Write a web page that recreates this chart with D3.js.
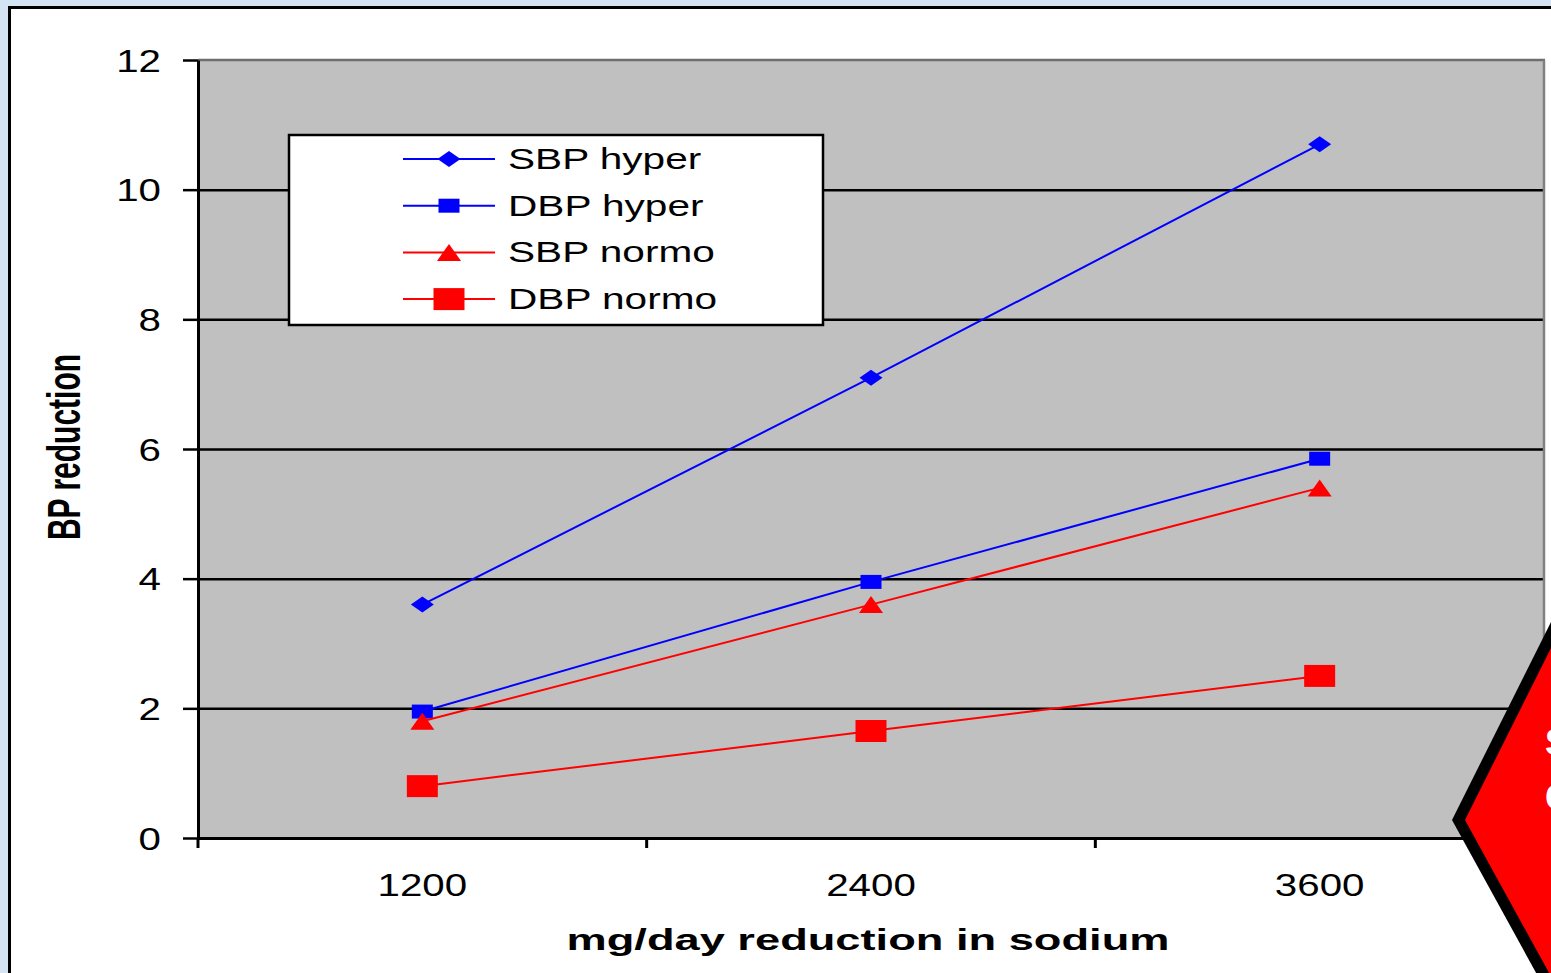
<!DOCTYPE html>
<html>
<head>
<meta charset="utf-8">
<script src="https://cdn.jsdelivr.net/npm/d3@7"></script>
<style>
  body { margin: 0; background: #d5e4f3; overflow: hidden; }
  text { font-family: "Liberation Sans", Arial, sans-serif; }
</style>
</head>
<body>
<svg id="chart" width="1551" height="973"></svg>
<script>
// Sodium reduction (mg/day) versus blood pressure reduction
const categories = ["1200", "2400", "3600"];
const seriesNames = ["SBP hyper", "DBP hyper", "SBP normo", "DBP normo"];
const sbpHyper = [3.6, 7.1, 10.7];
const dbpHyper = [1.95, 3.95, 5.85];
const sbpNormo = [1.8, 3.6, 5.4];
const dbpNormo = [0.8, 1.65, 2.5];
const yTicks = [0, 2, 4, 6, 8, 10, 12];
const xTitle = "mg/day reduction in sodium";
const yTitle = "BP reduction";

const seriesValues = [sbpHyper, dbpHyper, sbpNormo, dbpNormo];
const styles = [
  { color: "#0000ff", shape: "diamond",  w: 23, h: 16 },
  { color: "#0000ff", shape: "square",   w: 21, h: 14 },
  { color: "#ff0000", shape: "triangle", w: 24, h: 17 },
  { color: "#ff0000", shape: "square",   w: 31, h: 22 }
];
const series = seriesNames.map((name, i) => ({
  name, style: styles[i],
  points: categories.map((c, j) => ({ cat: c, value: seriesValues[i][j] }))
}));

const svg = d3.select("#chart");

// white panel with black frame
svg.append("rect").attr("x", 9.5).attr("y", 7.5).attr("width", 1700).attr("height", 1100)
  .attr("fill", "#fff").attr("stroke", "#000").attr("stroke-width", 3);

const plot = { left: 198, top: 60, right: 1544, bottom: 838 };
const x = d3.scaleBand().domain(categories).range([plot.left, plot.right]).padding(0);
const y = d3.scaleLinear().domain([0, 12]).range([plot.bottom, plot.top]);

// plot background
svg.append("rect").attr("x", plot.left).attr("y", plot.top)
  .attr("width", plot.right - plot.left).attr("height", plot.bottom - plot.top)
  .attr("fill", "#c0c0c0");

// horizontal gridlines
const grid = svg.append("g").attr("transform", `translate(${plot.left},0)`)
  .call(d3.axisLeft(y).tickValues(yTicks.filter(v => v > 0 && v < 12))
    .tickSize(-(plot.right - plot.left)).tickFormat(""));
grid.select(".domain").remove();
grid.selectAll("line").attr("stroke", "#000").attr("stroke-width", 2.5);

// plot frame top / right
svg.append("line").attr("x1", plot.left).attr("x2", plot.right + 1)
  .attr("y1", plot.top).attr("y2", plot.top).attr("stroke", "#6e6e6e").attr("stroke-width", 2.5);
svg.append("line").attr("x1", plot.right).attr("x2", plot.right)
  .attr("y1", plot.top).attr("y2", plot.bottom).attr("stroke", "#808080").attr("stroke-width", 2.5);

// y axis
const yAxis = svg.append("g").attr("transform", `translate(${plot.left},0)`)
  .call(d3.axisLeft(y).tickValues(yTicks).tickSize(15).tickSizeOuter(0).tickFormat(d3.format("d")));
yAxis.select(".domain").attr("stroke", "#000").attr("stroke-width", 3);
yAxis.selectAll(".tick line").attr("stroke", "#000").attr("stroke-width", 2.5);
yAxis.selectAll(".tick text")
  .attr("x", 0).attr("dy", "0.36em")
  .attr("transform", "translate(-37,0) scale(1.3,1)")
  .attr("text-anchor", "end").attr("fill", "#000")
  .style("font-size", "31px");

// x axis (labels at band centres, tick marks at band edges)
const xAxis = svg.append("g").attr("transform", `translate(0,${plot.bottom})`)
  .call(d3.axisBottom(x).tickSize(0).tickSizeOuter(0));
xAxis.select(".domain").attr("stroke", "#000").attr("stroke-width", 3);
xAxis.selectAll(".tick text")
  .attr("y", 0).attr("dy", null)
  .attr("transform", "translate(0,58) scale(1.3,1)")
  .attr("fill", "#000").style("font-size", "31px");
const edges = [x(categories[0])].concat(categories.map(c => x(c) + x.bandwidth()));
svg.append("g").selectAll("line").data(edges).join("line")
  .attr("x1", d => d).attr("x2", d => d)
  .attr("y1", plot.bottom).attr("y2", plot.bottom + 10)
  .attr("stroke", "#000").attr("stroke-width", 3);

// axis titles
svg.append("text")
  .attr("transform", `translate(868,950) scale(1.56,1)`)
  .attr("text-anchor", "middle").style("font-size", "29px").style("font-weight", "bold")
  .text(xTitle);
svg.append("text")
  .attr("transform", `translate(80,447) scale(1.53,1) rotate(-90)`)
  .attr("text-anchor", "middle").style("font-size", "30px").style("font-weight", "bold")
  .text(yTitle);

// marker shapes
function markerPath(shape, w, h) {
  const a = w / 2, b = h / 2;
  if (shape === "diamond") return `M0,${-b}L${a},0L0,${b}L${-a},0Z`;
  if (shape === "triangle") return `M0,${-b}L${a},${b}L${-a},${b}Z`;
  return `M${-a},${-b}h${w}v${h}h${-w}Z`;
}

const cx = c => x(c) + x.bandwidth() / 2;
const line = d3.line().x(d => cx(d.cat)).y(d => y(d.value));

const sg = svg.append("g").selectAll("g").data(series).join("g");
sg.append("path").attr("d", d => line(d.points))
  .attr("fill", "none").attr("stroke", d => d.style.color).attr("stroke-width", 2);
sg.each(function (s) {
  d3.select(this).selectAll("path.m").data(s.points).join("path").attr("class", "m")
    .attr("transform", d => `translate(${cx(d.cat)},${y(d.value)})`)
    .attr("d", markerPath(s.style.shape, s.style.w, s.style.h))
    .attr("fill", s.style.color);
});

// legend
const lg = svg.append("g");
lg.append("rect").attr("x", 289).attr("y", 135).attr("width", 534).attr("height", 190)
  .attr("fill", "#fff").attr("stroke", "#000").attr("stroke-width", 2.5);
const rows = lg.selectAll("g").data(series).join("g")
  .attr("transform", (d, i) => `translate(0,${159 + i * 46.7})`);
rows.append("line").attr("x1", 403).attr("x2", 495).attr("y1", 0).attr("y2", 0)
  .attr("stroke", d => d.style.color).attr("stroke-width", 2);
rows.append("path").attr("transform", "translate(449,0)")
  .attr("d", d => markerPath(d.style.shape, d.style.w, d.style.h))
  .attr("fill", d => d.style.color);
rows.append("text").attr("transform", "translate(508,10) scale(1.4,1)")
  .style("font-size", "29px").attr("fill", "#000").text(d => d.name);

// red sign at the lower right edge
const sign = svg.append("g");
sign.append("polygon")
  .attr("points", "1452,820 1571,582 1700,582 1700,1000 1551,1000")
  .attr("fill", "#000");
sign.append("polygon")
  .attr("points", "1465,820 1584,582 1700,582 1700,1000 1564,1000")
  .attr("fill", "#ff0000");
sign.append("text").attr("x", 1545).attr("y", 755).attr("fill", "#fff")
  .style("font-size", "36px").style("font-weight", "bold").text("S");
sign.append("text").attr("x", 1545).attr("y", 810).attr("fill", "#fff")
  .style("font-size", "36px").style("font-weight", "bold").text("C");
</script>
</body>
</html>
